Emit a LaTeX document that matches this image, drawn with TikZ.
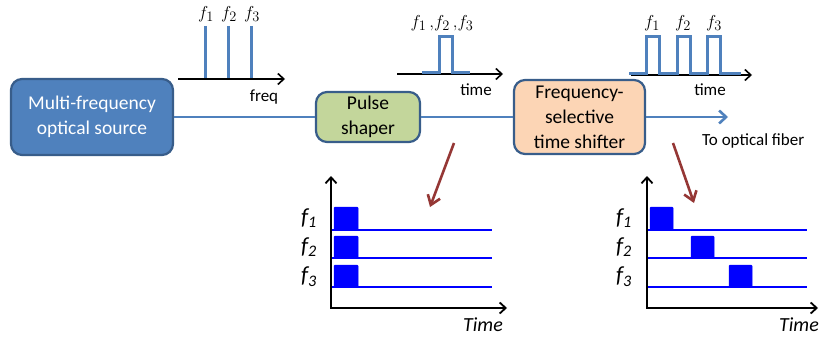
\documentclass[tikz,border=0pt]{standalone}
\usepackage{fontspec}
\setmainfont{Carlito}
\usetikzlibrary{arrows.meta}
\definecolor{cblue}{HTML}{4F81BD}
\definecolor{cborder}{HTML}{385D8A}
\definecolor{cgreen}{HTML}{C3D69B}
\definecolor{cpeach}{HTML}{FCD5B5}
\definecolor{cred}{HTML}{953735}
\definecolor{pblue}{HTML}{0000FF}
\begin{document}
\begin{tikzpicture}[x=1pt,y=-1pt,
  block/.style={draw=cborder, line width=2.2pt, rounded corners=11pt, align=center, inner sep=0pt,
    font=\fontsize{19.5}{25}\selectfont},
  mainline/.style={draw=cblue, line width=2.8pt},
  mainarrow/.style={mainline, -{Straight Barb[length=7pt,width=13pt,line width=2.6pt]}},
  axisline/.style={draw=black, line width=1.6pt, -{Straight Barb[length=6pt,width=11pt,line width=1.6pt]}},
  spec/.style={draw=cblue, line width=3pt},
  wave/.style={draw=cblue, line width=3pt, line join=miter},
  toplabel/.style={font=\fontsize{19}{22}\selectfont, inner sep=0pt},
  smalltext/.style={font=\fontsize{17}{20}\selectfont, inner sep=0pt},
  baxis/.style={draw=black, line width=1.8pt, {Straight Barb[length=6pt,width=11pt,line width=1.8pt]}-{Straight Barb[length=6pt,width=11pt,line width=1.8pt]}},
  chan/.style={draw=pblue, line width=2pt},
  pulse/.style={fill=pblue, draw=pblue, line width=0.5pt, rounded corners=1pt},
  flabel/.style={font=\fontsize{23}{25}\selectfont\itshape, inner sep=0pt},
  tlabel/.style={font=\fontsize{20}{22}\selectfont\itshape, inner sep=0pt},
  redarrow/.style={draw=cred, line width=2.6pt, -{Straight Barb[length=9pt,width=13pt,line width=2.6pt]}}
]
\useasboundingbox (0,0) rectangle (819,337);

% blocks
\node[block, fill=cblue, text=white, minimum width=162pt, minimum height=76pt] (src) at (92,117) {Multi-frequency\\optical source};
\node[block, fill=cgreen, minimum width=104pt, minimum height=50pt] (ps) at (368,117) {Pulse\\shaper};
\node[block, fill=cpeach, minimum width=131pt, minimum height=74pt] (fs) at (579.5,117) {Frequency-\\selective\\time shifter};
\coordinate (fiber) at (728,117);
\draw[mainline] (src.east) -- (ps.west);
\draw[mainline] (ps.east) -- (fs.west);
\draw[mainarrow] (fs.east) -- (fiber);
\node[smalltext, anchor=west] (tofiber) at (702,141) {To optical fiber};

% top plot 1
\coordinate (a1s) at (178,79);
\coordinate (a1e) at (285,79);
\draw[axisline] (a1s) -- (a1e);
\draw[spec] (205,26) -- (205,78);
\draw[spec] (228,26) -- (228,78);
\draw[spec] (251,26) -- (251,78);
\node[toplabel] (t1f1) at (206,14) {$f_1$};
\node[toplabel] (t1f2) at (229,14) {$f_2$};
\node[toplabel] (t1f3) at (252,14) {$f_3$};
\node[smalltext] (freq) at (264,97) {freq};

% top plot 2
\coordinate (a2s) at (397,74);
\coordinate (a2e) at (503,74);
\draw[axisline] (a2s) -- (a2e);
\draw[wave] (422,73) -- (439,73) -- (439,37) -- (452,37) -- (452,73) -- (470,73);
\node[toplabel] (t2f) at (442,23) {$f_1\,{,}f_2\,{,}f_3$};
\node[smalltext] (time2) at (476,90) {time};

% top plot 3
\coordinate (a3s) at (631,75);
\coordinate (a3e) at (752,75);
\draw[axisline] (a3s) -- (a3e);
\draw[wave] (629,74) -- (646,74) -- (646,37) -- (659,37) -- (659,74) -- (677,74) -- (677,37) -- (690,37) -- (690,74)
  -- (707,74) -- (707,37) -- (720,37) -- (720,74) -- (741,74);
\node[toplabel] (t3f1) at (652,23) {$f_1$};
\node[toplabel] (t3f2) at (683,23) {$f_2$};
\node[toplabel] (t3f3) at (714,23) {$f_3$};
\node[smalltext] (time3) at (710,90) {time};

% red arrows
\coordinate (r1s) at (454,143);
\coordinate (r1e) at (430,207);
\draw[redarrow] (r1s) -- (r1e);
\coordinate (r2s) at (673,143);
\coordinate (r2e) at (694,203);
\draw[redarrow] (r2s) -- (r2e);

% bottom left plot
\coordinate (bl1) at (331,176);
\coordinate (bl0) at (331,308);
\coordinate (bl2) at (507,308);
\draw[baxis] (bl1) -- (bl0) -- (bl2);
\draw[chan] (332,230) -- (492,230);
\draw[chan] (332,258) -- (492,258);
\draw[chan] (332,287) -- (492,287);
\draw[pulse] (334,207) rectangle (358,230);
\draw[pulse] (334,236) rectangle (358,258);
\draw[pulse] (334,265) rectangle (358,287);
\node[flabel] (blf1) at (309,218) {f\textsubscript{1}};
\node[flabel] (blf2) at (309,247) {f\textsubscript{2}};
\node[flabel] (blf3) at (309,277) {f\textsubscript{3}};
\node[tlabel] (bltime) at (483,325) {Time};

% bottom right plot
\coordinate (br1) at (647,176);
\coordinate (br0) at (647,308);
\coordinate (br2) at (818,308);
\draw[baxis] (br1) -- (br0) -- (br2);
\draw[chan] (648,230) -- (807,230);
\draw[chan] (648,258) -- (807,258);
\draw[chan] (648,287) -- (807,287);
\draw[pulse] (650,207) rectangle (673,230);
\draw[pulse] (691,236) rectangle (714,258);
\draw[pulse] (729,265) rectangle (752,287);
\node[flabel] (brf1) at (624,218) {f\textsubscript{1}};
\node[flabel] (brf2) at (624,247) {f\textsubscript{2}};
\node[flabel] (brf3) at (624,277) {f\textsubscript{3}};
\node[tlabel] (brtime) at (799,325) {Time};
\end{tikzpicture}
\end{document}
